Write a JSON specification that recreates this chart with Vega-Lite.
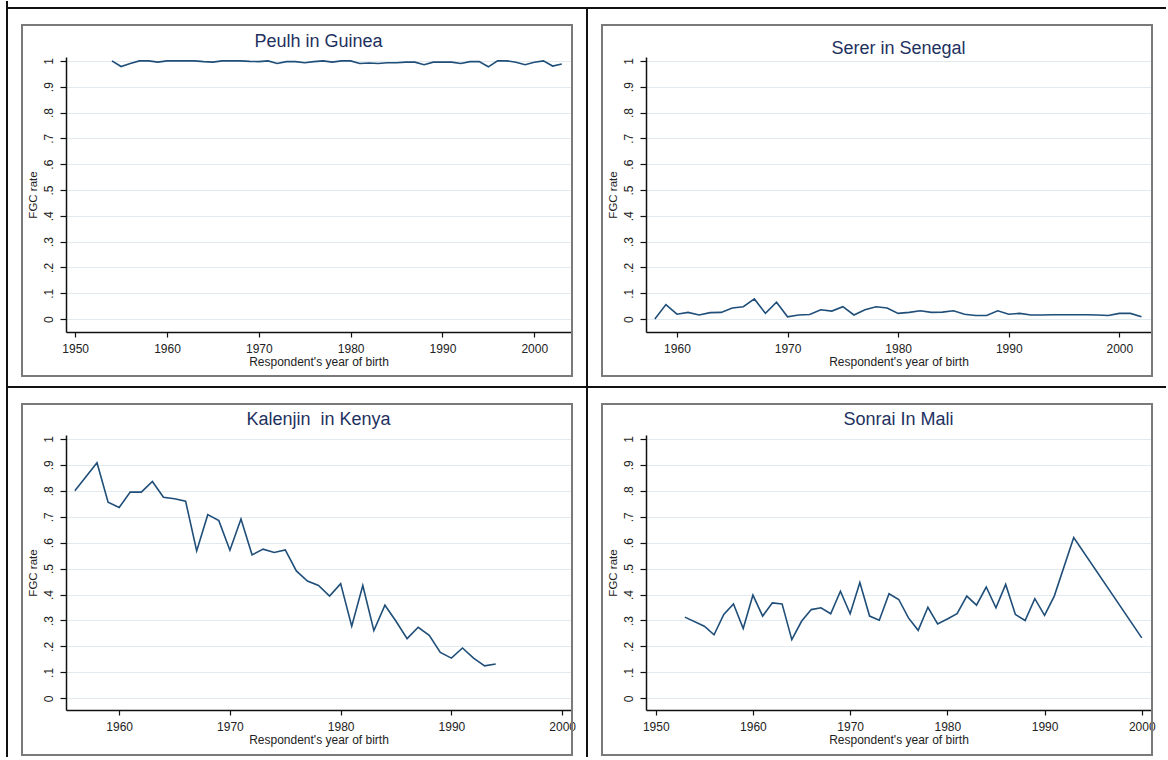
{
  "$schema": "https://vega.github.io/schema/vega-lite/v6.json",
  "background": "white",
  "padding": {"left": 5, "top": 0, "right": 0, "bottom": 0},
  "datasets": {
    "peulh": [
      {"year": 1954, "rate": 1.0}, {"year": 1955, "rate": 0.978}, {"year": 1956, "rate": 0.99}, {"year": 1957, "rate": 1.0},
      {"year": 1958, "rate": 1.0}, {"year": 1959, "rate": 0.995}, {"year": 1960, "rate": 1.0}, {"year": 1961, "rate": 1.0},
      {"year": 1962, "rate": 1.0}, {"year": 1963, "rate": 1.0}, {"year": 1964, "rate": 0.997}, {"year": 1965, "rate": 0.995},
      {"year": 1966, "rate": 1.0}, {"year": 1967, "rate": 1.0}, {"year": 1968, "rate": 1.0}, {"year": 1969, "rate": 0.998},
      {"year": 1970, "rate": 0.997}, {"year": 1971, "rate": 1.0}, {"year": 1972, "rate": 0.99}, {"year": 1973, "rate": 0.997},
      {"year": 1974, "rate": 0.997}, {"year": 1975, "rate": 0.993}, {"year": 1976, "rate": 0.997}, {"year": 1977, "rate": 1.0},
      {"year": 1978, "rate": 0.995}, {"year": 1979, "rate": 1.0}, {"year": 1980, "rate": 1.0}, {"year": 1981, "rate": 0.99},
      {"year": 1982, "rate": 0.992}, {"year": 1983, "rate": 0.99}, {"year": 1984, "rate": 0.993}, {"year": 1985, "rate": 0.993},
      {"year": 1986, "rate": 0.995}, {"year": 1987, "rate": 0.995}, {"year": 1988, "rate": 0.985}, {"year": 1989, "rate": 0.995},
      {"year": 1990, "rate": 0.995}, {"year": 1991, "rate": 0.995}, {"year": 1992, "rate": 0.99}, {"year": 1993, "rate": 0.997},
      {"year": 1994, "rate": 0.997}, {"year": 1995, "rate": 0.977}, {"year": 1996, "rate": 1.0}, {"year": 1997, "rate": 1.0},
      {"year": 1998, "rate": 0.995}, {"year": 1999, "rate": 0.985}, {"year": 2000, "rate": 0.995}, {"year": 2001, "rate": 1.0},
      {"year": 2002, "rate": 0.98}, {"year": 2003, "rate": 0.988}
    ],
    "serer": [
      {"year": 1958, "rate": 0.0}, {"year": 1959, "rate": 0.056}, {"year": 1960, "rate": 0.019}, {"year": 1961, "rate": 0.026},
      {"year": 1962, "rate": 0.016}, {"year": 1963, "rate": 0.025}, {"year": 1964, "rate": 0.026}, {"year": 1965, "rate": 0.043},
      {"year": 1966, "rate": 0.048}, {"year": 1967, "rate": 0.078}, {"year": 1968, "rate": 0.022}, {"year": 1969, "rate": 0.065},
      {"year": 1970, "rate": 0.009}, {"year": 1971, "rate": 0.016}, {"year": 1972, "rate": 0.018}, {"year": 1973, "rate": 0.036},
      {"year": 1974, "rate": 0.031}, {"year": 1975, "rate": 0.048}, {"year": 1976, "rate": 0.016}, {"year": 1977, "rate": 0.036},
      {"year": 1978, "rate": 0.048}, {"year": 1979, "rate": 0.043}, {"year": 1980, "rate": 0.022}, {"year": 1981, "rate": 0.026},
      {"year": 1982, "rate": 0.032}, {"year": 1983, "rate": 0.026}, {"year": 1984, "rate": 0.027}, {"year": 1985, "rate": 0.032},
      {"year": 1986, "rate": 0.019}, {"year": 1987, "rate": 0.014}, {"year": 1988, "rate": 0.014}, {"year": 1989, "rate": 0.032},
      {"year": 1990, "rate": 0.019}, {"year": 1991, "rate": 0.022}, {"year": 1992, "rate": 0.016}, {"year": 1993, "rate": 0.016},
      {"year": 1994, "rate": 0.017}, {"year": 1995, "rate": 0.017}, {"year": 1996, "rate": 0.017}, {"year": 1997, "rate": 0.017},
      {"year": 1998, "rate": 0.016}, {"year": 1999, "rate": 0.014}, {"year": 2000, "rate": 0.022}, {"year": 2001, "rate": 0.022},
      {"year": 2002, "rate": 0.009}
    ],
    "kalenjin": [
      {"year": 1956, "rate": 0.8}, {"year": 1958, "rate": 0.908}, {"year": 1959, "rate": 0.756}, {"year": 1960, "rate": 0.736},
      {"year": 1961, "rate": 0.795}, {"year": 1962, "rate": 0.795}, {"year": 1963, "rate": 0.836}, {"year": 1964, "rate": 0.775},
      {"year": 1965, "rate": 0.769}, {"year": 1966, "rate": 0.76}, {"year": 1967, "rate": 0.568}, {"year": 1968, "rate": 0.708},
      {"year": 1969, "rate": 0.685}, {"year": 1970, "rate": 0.571}, {"year": 1971, "rate": 0.691}, {"year": 1972, "rate": 0.553},
      {"year": 1973, "rate": 0.575}, {"year": 1974, "rate": 0.562}, {"year": 1975, "rate": 0.572}, {"year": 1976, "rate": 0.491},
      {"year": 1977, "rate": 0.452}, {"year": 1978, "rate": 0.435}, {"year": 1979, "rate": 0.394}, {"year": 1980, "rate": 0.442},
      {"year": 1981, "rate": 0.278}, {"year": 1982, "rate": 0.435}, {"year": 1983, "rate": 0.261}, {"year": 1984, "rate": 0.359},
      {"year": 1985, "rate": 0.297}, {"year": 1986, "rate": 0.23}, {"year": 1987, "rate": 0.274}, {"year": 1988, "rate": 0.243},
      {"year": 1989, "rate": 0.177}, {"year": 1990, "rate": 0.155}, {"year": 1991, "rate": 0.194}, {"year": 1992, "rate": 0.155},
      {"year": 1993, "rate": 0.125}, {"year": 1994, "rate": 0.132}
    ],
    "sonrai": [
      {"year": 1953, "rate": 0.313}, {"year": 1955, "rate": 0.278}, {"year": 1956, "rate": 0.245}, {"year": 1957, "rate": 0.323},
      {"year": 1958, "rate": 0.364}, {"year": 1959, "rate": 0.269}, {"year": 1960, "rate": 0.398}, {"year": 1961, "rate": 0.317},
      {"year": 1962, "rate": 0.368}, {"year": 1963, "rate": 0.364}, {"year": 1964, "rate": 0.226}, {"year": 1965, "rate": 0.297},
      {"year": 1966, "rate": 0.342}, {"year": 1967, "rate": 0.349}, {"year": 1968, "rate": 0.326}, {"year": 1969, "rate": 0.413},
      {"year": 1970, "rate": 0.326}, {"year": 1971, "rate": 0.446}, {"year": 1972, "rate": 0.317}, {"year": 1973, "rate": 0.301},
      {"year": 1974, "rate": 0.403}, {"year": 1975, "rate": 0.381}, {"year": 1976, "rate": 0.31}, {"year": 1977, "rate": 0.262},
      {"year": 1978, "rate": 0.351}, {"year": 1979, "rate": 0.287}, {"year": 1980, "rate": 0.306}, {"year": 1981, "rate": 0.326},
      {"year": 1982, "rate": 0.394}, {"year": 1983, "rate": 0.359}, {"year": 1984, "rate": 0.429}, {"year": 1985, "rate": 0.349},
      {"year": 1986, "rate": 0.439}, {"year": 1987, "rate": 0.323}, {"year": 1988, "rate": 0.3}, {"year": 1989, "rate": 0.384},
      {"year": 1990, "rate": 0.32}, {"year": 1991, "rate": 0.394}, {"year": 1993, "rate": 0.62}, {"year": 2000, "rate": 0.233}
    ]
  },
  "config": {
    "font": "Liberation Sans",
    "view": {"stroke": null},
    "axis": {
      "domainColor": "#111111", "domainWidth": 1.5, "tickColor": "#111111", "tickWidth": 1.2,
      "labelFont": "Liberation Sans", "labelFontSize": 12, "labelColor": "#222222",
      "titleFont": "Liberation Sans", "titleFontSize": 12, "titleFontWeight": "normal", "titleColor": "#222222",
      "grid": false, "labelOverlap": false
    },
    "axisX": {"tickSize": 5, "labelPadding": 6, "titlePadding": 2, "labelFlush": false, "format": "d", "tickCount": 6},
    "axisY": {
      "tickSize": 6, "labelPadding": 5, "titlePadding": 4, "titleFontSize": 11.5, "tickCount": 11,
      "labelAngle": -90, "labelAlign": "center", "labelBaseline": "bottom",
      "grid": true, "gridColor": "#e1eaef", "gridWidth": 1,
      "labelExpr": "datum.value == 0 ? '0' : datum.value >= 1 ? '1' : '.' + round(datum.value * 10)"
    },
    "title": {"fontSize": 18, "font": "Liberation Sans", "fontWeight": "normal", "color": "#1e3160", "baseline": "bottom", "anchor": "middle", "frame": "group"}
  },
  "columns": 2,
  "spacing": {"row": 103, "column": 75},
  "bounds": "flush",
  "concat": [
    {
      "width": 505, "height": 275,
      "title": {"text": "Peulh in Guinea", "frame": "group", "offset": -51},
      "layer": [
        {
          "data": {"name": "peulh"},
          "mark": {"type": "line", "color": "#1f4e79", "strokeWidth": 1.6},
          "encoding": {
            "x": {"field": "year", "type": "quantitative", "title": "Respondent's year of birth", "scale": {"domain": [1949.0, 2004.0], "nice": false, "zero": false}, "axis": {"values": [1950, 1960, 1970, 1980, 1990, 2000], "labelOverlap": false}},
            "y": {"field": "rate", "type": "quantitative", "title": "FGC rate", "scale": {"domain": [-0.05, 1.015], "nice": false, "zero": false}, "axis": {"values": [0, 0.1, 0.2, 0.3, 0.4, 0.5, 0.6, 0.7, 0.8, 0.9, 1], "labelOverlap": false}}
          }
        },
        {
          "data": {"values": [{}]},
          "mark": {"type": "rect", "filled": false, "color": "#7a7a7a", "strokeWidth": 2, "clip": false},
          "encoding": {
            "x": {"datum": 1944.208, "scale": {"domain": [1949.0, 2004.0], "nice": false, "zero": false}},
            "x2": {"datum": 2004.109},
            "y": {"datum": -0.2204, "scale": {"domain": [-0.05, 1.015], "nice": false, "zero": false}},
            "y2": {"datum": 1.1389}
          }
        },
        {
          "data": {"values": [{}]},
          "mark": {"type": "rule", "color": "#111111", "strokeWidth": 2, "clip": false},
          "encoding": {
            "x": {"datum": 1942.574, "scale": {"domain": [1949.0, 2004.0], "nice": false, "zero": false}},
            "x2": {"datum": 2005.743},
            "y": {"datum": 1.2047, "scale": {"domain": [-0.05, 1.015], "nice": false, "zero": false}}
          }
        },
        {
          "data": {"values": [{}]},
          "mark": {"type": "rule", "color": "#111111", "strokeWidth": 2, "clip": false},
          "encoding": {
            "x": {"datum": 1942.574, "scale": {"domain": [1949.0, 2004.0], "nice": false, "zero": false}},
            "y": {"datum": -0.263, "scale": {"domain": [-0.05, 1.015], "nice": false, "zero": false}},
            "y2": {"datum": 1.2318}
          }
        }
      ]
    },
    {
      "width": 505, "height": 275,
      "title": {"text": "Serer in Senegal", "frame": "group", "offset": -51},
      "layer": [
        {
          "data": {"name": "serer"},
          "mark": {"type": "line", "color": "#1f4e79", "strokeWidth": 1.6},
          "encoding": {
            "x": {"field": "year", "type": "quantitative", "title": "Respondent's year of birth", "scale": {"domain": [1957.2, 2002.86], "nice": false, "zero": false}, "axis": {"values": [1960, 1970, 1980, 1990, 2000], "labelOverlap": false}},
            "y": {"field": "rate", "type": "quantitative", "title": "FGC rate", "scale": {"domain": [-0.05, 1.015], "nice": false, "zero": false}, "axis": {"values": [0, 0.1, 0.2, 0.3, 0.4, 0.5, 0.6, 0.7, 0.8, 0.9, 1], "labelOverlap": false}}
          }
        },
        {
          "data": {"values": [{}]},
          "mark": {"type": "rect", "filled": false, "color": "#7a7a7a", "strokeWidth": 2, "clip": false},
          "encoding": {
            "x": {"datum": 1953.222, "scale": {"domain": [1957.2, 2002.86], "nice": false, "zero": false}},
            "x2": {"datum": 2002.95},
            "y": {"datum": -0.2204, "scale": {"domain": [-0.05, 1.015], "nice": false, "zero": false}},
            "y2": {"datum": 1.1389}
          }
        },
        {
          "data": {"values": [{}]},
          "mark": {"type": "rule", "color": "#111111", "strokeWidth": 2, "clip": false},
          "encoding": {
            "x": {"datum": 1951.865, "scale": {"domain": [1957.2, 2002.86], "nice": false, "zero": false}},
            "x2": {"datum": 2004.216},
            "y": {"datum": 1.2047, "scale": {"domain": [-0.05, 1.015], "nice": false, "zero": false}}
          }
        },
        {
          "data": {"values": [{}]},
          "mark": {"type": "rule", "color": "#111111", "strokeWidth": 2, "clip": false},
          "encoding": {
            "x": {"datum": 1951.865, "scale": {"domain": [1957.2, 2002.86], "nice": false, "zero": false}},
            "y": {"datum": -0.263, "scale": {"domain": [-0.05, 1.015], "nice": false, "zero": false}},
            "y2": {"datum": 1.2047}
          }
        }
      ]
    },
    {
      "width": 505, "height": 275,
      "title": {"text": "Kalenjin\u00a0 in Kenya", "frame": "group", "offset": -43},
      "layer": [
        {
          "data": {"name": "kalenjin"},
          "mark": {"type": "line", "color": "#1f4e79", "strokeWidth": 1.6},
          "encoding": {
            "x": {"field": "year", "type": "quantitative", "title": "Respondent's year of birth", "scale": {"domain": [1955.2, 2000.8], "nice": false, "zero": false}, "axis": {"values": [1960, 1970, 1980, 1990, 2000], "labelOverlap": false}},
            "y": {"field": "rate", "type": "quantitative", "title": "FGC rate", "scale": {"domain": [-0.045, 1.015], "nice": false, "zero": false}, "axis": {"values": [0, 0.1, 0.2, 0.3, 0.4, 0.5, 0.6, 0.7, 0.8, 0.9, 1], "labelOverlap": false}}
          }
        },
        {
          "data": {"values": [{}]},
          "mark": {"type": "rect", "filled": false, "color": "#7a7a7a", "strokeWidth": 2, "clip": false},
          "encoding": {
            "x": {"datum": 1951.227, "scale": {"domain": [1955.2, 2000.8], "nice": false, "zero": false}},
            "x2": {"datum": 2000.89},
            "y": {"datum": -0.2185, "scale": {"domain": [-0.045, 1.015], "nice": false, "zero": false}},
            "y2": {"datum": 1.1345}
          }
        },
        {
          "data": {"values": [{}]},
          "mark": {"type": "rule", "color": "#111111", "strokeWidth": 2, "clip": false},
          "encoding": {
            "x": {"datum": 1949.873, "scale": {"domain": [1955.2, 2000.8], "nice": false, "zero": false}},
            "x2": {"datum": 2002.245},
            "y": {"datum": 1.2, "scale": {"domain": [-0.045, 1.015], "nice": false, "zero": false}}
          }
        },
        {
          "data": {"values": [{}]},
          "mark": {"type": "rule", "color": "#111111", "strokeWidth": 2, "clip": false},
          "encoding": {
            "x": {"datum": 1949.873, "scale": {"domain": [1955.2, 2000.8], "nice": false, "zero": false}},
            "y": {"datum": -0.2262, "scale": {"domain": [-0.045, 1.015], "nice": false, "zero": false}},
            "y2": {"datum": 1.2}
          }
        }
      ]
    },
    {
      "width": 505, "height": 275,
      "title": {"text": "Sonrai In Mali", "frame": "group", "offset": -43},
      "layer": [
        {
          "data": {"name": "sonrai"},
          "mark": {"type": "line", "color": "#1f4e79", "strokeWidth": 1.6},
          "encoding": {
            "x": {"field": "year", "type": "quantitative", "title": "Respondent's year of birth", "scale": {"domain": [1949.0, 2000.95], "nice": false, "zero": false}, "axis": {"values": [1950, 1960, 1970, 1980, 1990, 2000], "labelOverlap": false}},
            "y": {"field": "rate", "type": "quantitative", "title": "FGC rate", "scale": {"domain": [-0.045, 1.015], "nice": false, "zero": false}, "axis": {"values": [0, 0.1, 0.2, 0.3, 0.4, 0.5, 0.6, 0.7, 0.8, 0.9, 1], "labelOverlap": false}}
          }
        },
        {
          "data": {"values": [{}]},
          "mark": {"type": "rect", "filled": false, "color": "#7a7a7a", "strokeWidth": 2, "clip": false},
          "encoding": {
            "x": {"datum": 1944.474, "scale": {"domain": [1949.0, 2000.95], "nice": false, "zero": false}},
            "x2": {"datum": 2001.053},
            "y": {"datum": -0.2185, "scale": {"domain": [-0.045, 1.015], "nice": false, "zero": false}},
            "y2": {"datum": 1.1345}
          }
        },
        {
          "data": {"values": [{}]},
          "mark": {"type": "rule", "color": "#111111", "strokeWidth": 2, "clip": false},
          "encoding": {
            "x": {"datum": 1942.931, "scale": {"domain": [1949.0, 2000.95], "nice": false, "zero": false}},
            "x2": {"datum": 2002.493},
            "y": {"datum": 1.2, "scale": {"domain": [-0.045, 1.015], "nice": false, "zero": false}}
          }
        },
        {
          "data": {"values": [{}]},
          "mark": {"type": "rule", "color": "#111111", "strokeWidth": 2, "clip": false},
          "encoding": {
            "x": {"datum": 1942.931, "scale": {"domain": [1949.0, 2000.95], "nice": false, "zero": false}},
            "y": {"datum": -0.2262, "scale": {"domain": [-0.045, 1.015], "nice": false, "zero": false}},
            "y2": {"datum": 1.2}
          }
        }
      ]
    }
  ]
}
